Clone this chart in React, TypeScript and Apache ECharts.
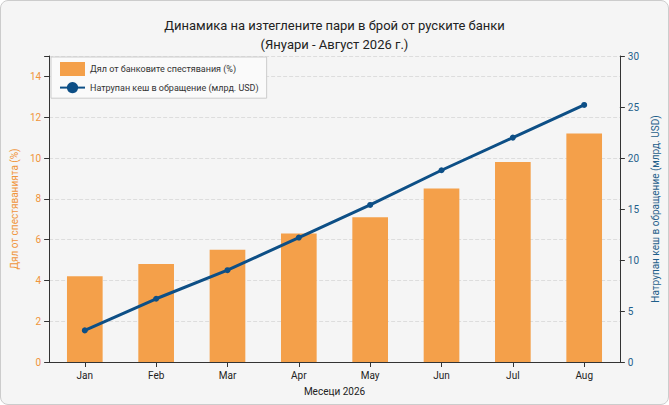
import React, { useEffect, useRef } from "react";
import * as echarts from "echarts";

const months = ["Jan", "Feb", "Mar", "Apr", "May", "Jun", "Jul", "Aug"];
const shareValues = [4.2, 4.8, 5.5, 6.3, 7.1, 8.5, 9.8, 11.2];
const cashValues = [3.1, 6.2, 9.0, 12.2, 15.4, 18.8, 22.0, 25.2];

export default function App() {
  const ref = useRef<HTMLDivElement>(null);
  useEffect(() => {
    const chart = echarts.init(ref.current!, null, { renderer: "svg" });
    const font = "Roboto, 'Noto Sans', sans-serif";
    chart.setOption({
      animation: false,
      textStyle: { fontFamily: font },
      title: {
        text: "Динамика на изтеглените пари в брой от руските банки\n(Януари - Август 2026 г.)",
        left: "center",
        top: 10,
        textStyle: { fontSize: 13, fontWeight: "normal", color: "#222", lineHeight: 19 },
      },
      legend: {
        orient: "vertical",
        left: 50,
        top: 56,
        itemGap: 6,
        backgroundColor: "#fafafa",
        borderColor: "#ccc",
        borderWidth: 1,
        padding: [5, 8],
        textStyle: { fontSize: 9, color: "#333" },
        data: [
          { name: "Дял от банковите спестявания (%)", icon: "rect" },
          { name: "Натрупан кеш в обращение (млрд. USD)" },
        ],
      },
      grid: { left: 44, right: 47, top: 55, bottom: 42 },
      xAxis: {
        type: "category",
        data: months,
        name: "Месеци 2026",
        nameLocation: "middle",
        nameGap: 24,
        nameTextStyle: { fontSize: 10, color: "#222" },
        axisLine: { lineStyle: { color: "#333" } },
        axisTick: { show: true, alignWithLabel: true },
        axisLabel: { fontSize: 10, color: "#222" },
      },
      yAxis: [
        {
          type: "value",
          min: 0,
          max: 15,
          interval: 2,
          name: "Дял от спестяванията (%)",
          nameLocation: "middle",
          nameGap: 26,
          nameTextStyle: { color: "#f0943a", fontSize: 10 },
          axisLine: { show: true, lineStyle: { color: "#333" } },
          axisTick: { show: true },
          axisLabel: { color: "#f0943a", fontSize: 10, formatter: (v: number) => (v > 14 ? "" : String(v)) },
          splitLine: { lineStyle: { type: "dashed", color: "#ddd" } },
        },
        {
          type: "value",
          min: 0,
          max: 30,
          interval: 5,
          name: "Натрупан кеш в обращение (млрд. USD)",
          nameLocation: "middle",
          nameGap: 28,
          nameTextStyle: { color: "#1f5f8b", fontSize: 10 },
          axisLine: { show: true, lineStyle: { color: "#333" } },
          axisTick: { show: true },
          axisLabel: { color: "#1f5f8b", fontSize: 10 },
          splitLine: { show: false },
        },
      ],
      series: [
        {
          name: "Дял от банковите спестявания (%)",
          type: "bar",
          data: shareValues,
          barWidth: "50%",
          itemStyle: { color: "#f4a04a" },
          yAxisIndex: 0,
        },
        {
          name: "Натрупан кеш в обращение (млрд. USD)",
          type: "line",
          data: cashValues,
          yAxisIndex: 1,
          symbol: "circle",
          symbolSize: 6,
          lineStyle: { color: "#0d4f86", width: 3 },
          itemStyle: { color: "#0d4f86" },
        },
      ],
    });
    return () => chart.dispose();
  }, []);
  return (
    <div
      style={{
        position: "fixed",
        left: 0,
        top: 0,
        width: 669,
        height: 405,
        background: "#f5f5f5",
        boxSizing: "border-box",
        border: "1px solid #ccc",
        borderRadius: 8,
      }}
    >
      <div ref={ref} style={{ width: 667, height: 403 }} />
    </div>
  );
}
